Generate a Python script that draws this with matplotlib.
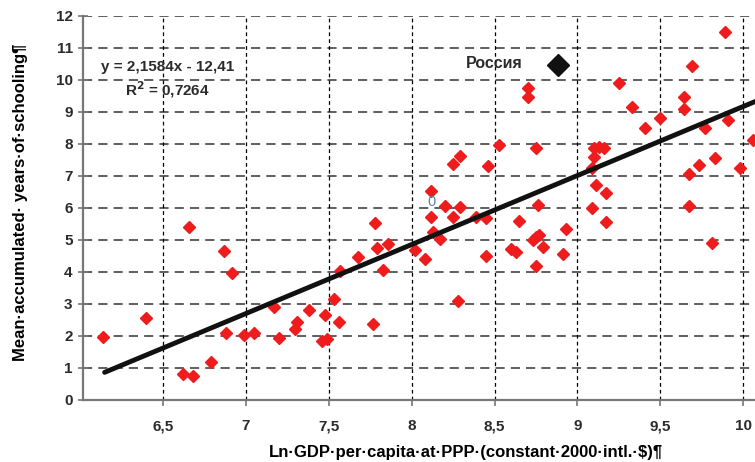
import numpy as np
import matplotlib
matplotlib.use("Agg")
import matplotlib.pyplot as plt

plt.rcParams["font.family"] = ["Liberation Sans", "DejaVu Sans"]

# Ln GDP per capita vs mean years of schooling
gdp = [6.14, 6.40, 6.66, 6.62, 6.68, 6.79, 6.87, 6.92, 6.88, 6.99,
       7.05, 7.17, 7.20, 7.30, 7.31, 7.38, 7.46, 7.49, 7.48, 7.53,
       7.56, 7.57, 7.68, 7.78, 7.79, 7.86, 7.83, 7.77, 8.02, 8.08,
       8.13, 8.12, 8.17, 8.20, 8.25, 8.29, 8.28, 8.39, 8.45, 8.45,
       8.65, 8.60, 8.63, 8.76, 8.73, 8.75, 8.77, 8.79, 8.75, 8.91,
       8.93, 9.09, 9.17, 9.67, 9.81, 9.89, 9.69, 9.25, 8.70, 8.70,
       9.64, 9.64, 9.33, 9.50, 9.41, 9.91, 9.77, 10.06, 8.53, 8.75,
       8.29, 8.25, 8.46, 9.10, 9.13, 9.16, 9.10, 9.09, 9.11, 9.17,
       9.73, 9.83, 9.67, 9.98, 8.12]
school = [1.98, 2.57, 5.42, 0.81, 0.75, 1.18, 4.67, 3.98, 2.08, 2.02,
          2.08, 2.92, 1.93, 2.21, 2.45, 2.81, 1.83, 1.90, 2.66, 3.16,
          2.43, 4.02, 4.46, 5.54, 4.76, 4.88, 4.06, 2.36, 4.69, 4.41,
          5.24, 5.73, 5.02, 6.07, 5.71, 6.04, 3.10, 5.71, 5.70, 4.50,
          5.60, 4.72, 4.64, 6.09, 5.00, 5.10, 5.16, 4.79, 4.19, 4.55,
          5.34, 5.99, 5.55, 6.07, 4.90, 11.51, 10.45, 9.90, 9.74, 9.48,
          9.46, 9.09, 9.17, 8.80, 8.49, 8.75, 8.49, 8.13, 7.97, 7.89,
          7.63, 7.36, 7.32, 7.87, 7.90, 7.87, 7.60, 7.24, 6.72, 6.48,
          7.34, 7.55, 7.05, 7.24, 6.53]

russia_x = 8.88
russia_y = 10.48

slope = 2.1584
intercept = -12.41
fit_x = [6.15, 10.5]

xticks = [6.5, 7, 7.5, 8, 8.5, 9, 9.5, 10]
xticklabels = ["6,5", "7", "7,5", "8", "8,5", "9", "9,5", "10"]
yticks = list(range(0, 13))

fig = plt.figure(figsize=(7.55, 4.62), dpi=100)
ax = fig.add_axes([0.110, 0.1342, 0.890, 0.8312])

txt = "#2b2b2b"

for v in yticks[1:]:
    ax.axhline(v, color="#333333", lw=1.1, ls=(0, (6, 4)), zorder=1)
for v in xticks:
    ax.axvline(v, color="black", lw=0.9, ls=(0, (3, 2.5)), zorder=1)

fx = np.array(fit_x)
ax.plot(fx, slope * fx + intercept, color="#111111", lw=3.5,
        solid_capstyle="round", zorder=3)

ax.plot(gdp, school, ls="none", marker="D", ms=6.3, color="#ee1c1c",
        mec="#ee1c1c", zorder=2)
ax.plot([russia_x], [russia_y], ls="none", marker="D", ms=11,
        color="#111111", zorder=4)
ax.text(russia_x - 0.21, russia_y + 0.05, "Россия", ha="right", va="center",
        fontsize=11.5, fontweight="bold", color=txt)

ax.text(6.53, 10.4, "y = 2,1584x - 12,41", ha="center", va="center",
        fontsize=11, fontweight="bold", color=txt)
ax.text(6.53, 9.7, "R$^\\mathbf{2}$ = 0,7264", ha="center", va="center",
        fontsize=11, fontweight="bold", color=txt)
ax.text(8.12, 6.2, "0", ha="center", va="center", fontsize=10.5,
        color="#5b7fa6")

ax.set_xlim(6.02, 10.07)
ax.set_ylim(0, 12)
ax.set_xticks(xticks)
ax.set_xticklabels(xticklabels)
ax.set_yticks(yticks)

for s in ["top", "right"]:
    ax.spines[s].set_visible(False)
for s in ["left", "bottom"]:
    ax.spines[s].set_color("#777777")
    ax.spines[s].set_linewidth(1.6)

ax.tick_params(axis="y", direction="inout", length=7, width=1.2,
               color="#777777", labelsize=11, labelcolor=txt, pad=4)
ax.tick_params(axis="x", direction="out", length=4, width=1.2,
               color="#777777", labelsize=11, labelcolor=txt, pad=10)
for lab in ax.get_xticklabels() + ax.get_yticklabels():
    lab.set_fontweight("bold")

ax.set_xlabel("Ln·GDP·per·capita·at·PPP·(constant·2000·intl.·$)¶",
              fontsize=12, fontweight="bold", color="black", va="center")
ax.xaxis.set_label_coords(0.57, -0.137)
ax.set_ylabel("Mean·accumulated· years·of·schooling¶", fontsize=12,
              fontweight="bold", color="black")
ax.yaxis.set_label_coords(-0.082, 0.516)

fig.savefig("out.png", dpi=100)
